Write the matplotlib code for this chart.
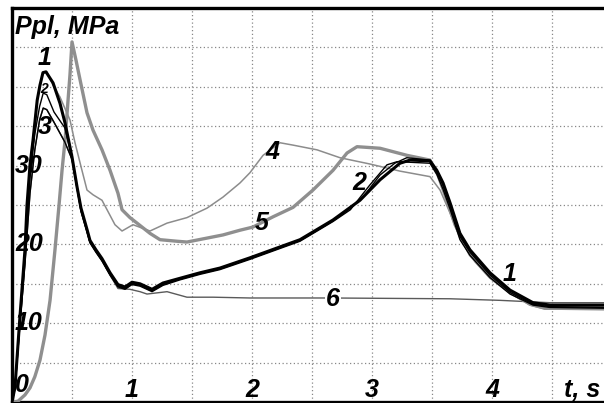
import matplotlib
matplotlib.use("Agg")
import matplotlib.pyplot as plt

# curve 1 - black, thick
t1 = [0, 0.025, 0.067, 0.108, 0.125, 0.15, 0.175, 0.21, 0.233, 0.258, 0.283, 0.342, 0.40, 0.442,
      0.50, 0.542, 0.575, 0.625, 0.65, 0.70, 0.75, 0.817, 0.883, 0.942, 1.0, 1.067, 1.167, 1.258,
      1.40, 1.567, 1.733, 1.983, 2.40, 2.675, 2.90, 3.067, 3.233, 3.317, 3.483, 3.54, 3.592, 3.65,
      3.733, 3.817, 3.983, 4.15, 4.342, 4.483, 4.95]
p1 = [0, 1.9, 11.0, 19.3, 25.0, 30.1, 33.2, 38.3, 40.2, 41.8, 41.9, 40.5, 37.9, 35.4,
      31.1, 27.3, 24.6, 21.9, 20.5, 19.3, 18.2, 16.4, 14.9, 14.6, 15.2, 15.0, 14.3, 15.1,
      15.7, 16.4, 17.0, 18.3, 20.6, 23.1, 25.6, 28.2, 30.3, 30.7, 30.6, 29.4, 27.8, 25.3,
      21.4, 19.3, 16.4, 14.2, 12.6, 12.3, 12.3]

# curve 2 - black, thin
t2 = [0, 0.025, 0.067, 0.108, 0.15, 0.19, 0.23, 0.26, 0.29, 0.35, 0.44, 0.50, 0.575, 0.625,
      0.65, 0.70, 0.75, 0.817, 0.883, 0.942, 1.0, 1.067, 1.167, 1.258, 1.40, 1.567, 1.733, 1.983,
      2.40, 2.675, 2.80, 2.925, 3.067, 3.19, 3.29, 3.483, 3.54, 3.592, 3.65, 3.733, 3.817,
      3.983, 4.15, 4.342, 4.483, 4.95]
p2 = [0, 1.8, 10.5, 18.5, 28.5, 34.0, 37.5, 39.2, 39.0, 36.8, 34.8, 31.0, 24.4, 21.7,
      20.3, 19.1, 18.0, 16.2, 14.7, 14.4, 15.0, 14.8, 14.1, 14.9, 15.6, 16.3, 16.9, 18.2,
      20.5, 23.0, 24.4, 26.0, 28.8, 30.3, 31.0, 30.7, 29.2, 27.5, 25.0, 21.0, 19.0,
      16.1, 13.9, 12.4, 12.1, 12.0]

# curve 3 - black, thin
t3 = [0, 0.025, 0.067, 0.108, 0.15, 0.19, 0.23, 0.26, 0.29, 0.35, 0.44, 0.50, 0.575, 0.625,
      0.65, 0.70, 0.75, 0.817, 0.883, 0.942, 1.0, 1.067, 1.167, 1.258, 1.40, 1.567, 1.733, 1.983,
      2.40, 2.675, 2.82, 2.98, 3.125, 3.21, 3.483, 3.54, 3.592, 3.65, 3.733, 3.817,
      3.983, 4.15, 4.342, 4.483, 4.95]
p3 = [0, 1.7, 10.0, 17.5, 26.5, 32.0, 35.8, 37.3, 37.1, 35.5, 33.0, 30.8, 24.2, 21.6,
      20.2, 19.0, 17.9, 16.1, 14.6, 14.3, 14.9, 14.7, 14.0, 14.8, 15.5, 16.2, 16.8, 18.1,
      20.4, 22.9, 24.4, 27.5, 30.1, 30.5, 30.3, 28.9, 27.0, 24.5, 20.6, 18.6,
      15.8, 13.7, 12.3, 12.0, 11.9]

# curve 4 - gray, thin
t4 = [0, 0.025, 0.067, 0.108, 0.15, 0.21, 0.258, 0.29, 0.342, 0.40, 0.483, 0.525, 0.583,
      0.625, 0.675, 0.75, 0.792, 0.858, 0.917, 1.008, 1.15, 1.292, 1.458, 1.625, 1.758,
      1.90, 1.983, 2.092, 2.233, 2.342, 2.542, 2.733, 2.983, 3.233, 3.483, 3.567, 3.65,
      3.733, 3.858, 3.983, 4.15, 4.317, 4.442, 4.95]
p4 = [0, 1.9, 11.0, 19.3, 30.0, 38.3, 41.8, 41.9, 40.2, 38.7, 35.8, 32.9, 29.4,
      26.9, 26.3, 25.6, 24.4, 22.5, 21.7, 22.5, 21.7, 22.7, 23.4, 24.6, 26.0,
      27.8, 29.1, 31.3, 32.9, 32.6, 32.0, 31.0, 30.2, 29.3, 28.6, 26.9, 24.0,
      20.8, 17.8, 15.7, 13.8, 12.3, 11.8, 11.7]

# curve 5 - gray, thick
t5 = [0, 0.05, 0.108, 0.15, 0.19, 0.233, 0.275, 0.317, 0.358, 0.392, 0.417, 0.442, 0.467,
      0.483, 0.50, 0.533, 0.567, 0.625, 0.675, 0.75, 0.817, 0.883, 0.917, 0.983, 1.042,
      1.15, 1.233, 1.375, 1.458, 1.625, 1.758, 1.90, 2.008, 2.175, 2.342, 2.508, 2.675,
      2.792, 2.875, 3.067, 3.292, 3.483, 3.55, 3.608, 3.692, 3.817, 3.983, 4.15, 4.317,
      4.442, 4.95]
p5 = [0, 0.1, 0.9, 1.8, 3.2, 5.3, 8.5, 12.9, 19.3, 25.0, 29.4, 33.2, 38.3,
      41.5, 45.7, 43.4, 40.9, 36.7, 34.5, 32.0, 29.4, 26.5, 24.4, 23.4, 22.7,
      21.4, 20.6, 20.4, 20.3, 20.8, 21.2, 21.8, 22.2, 23.5, 24.7, 26.9, 29.4,
      31.6, 32.4, 32.2, 31.3, 30.7, 28.8, 26.3, 22.5, 18.7, 15.9, 14.0, 12.4,
      11.9, 11.9]

# curve 6 - dark gray, thin
t6 = [0, 0.025, 0.067, 0.108, 0.15, 0.19, 0.23, 0.26, 0.29, 0.35, 0.44, 0.50, 0.575, 0.625,
      0.65, 0.70, 0.75, 0.817, 0.883, 0.983, 1.067, 1.125, 1.292, 1.458, 1.675, 1.983, 2.65,
      3.65, 4.067, 4.483, 4.95]
p6 = [0, 1.7, 10.0, 17.5, 26.5, 32.0, 35.8, 37.3, 37.1, 35.5, 33.0, 30.8, 24.2, 21.6,
      20.2, 19.0, 17.9, 16.1, 14.4, 14.3, 14.0, 13.7, 14.0, 13.3, 13.3, 13.2, 13.2,
      13.1, 12.9, 12.6, 12.6]

xtick_vals = [1, 2, 3, 4]
xtick_labels = ["1", "2", "3", "4"]
ytick_vals = [10, 20, 30]
ytick_labels = ["10", "20", "30"]

fnt = ["Liberation Sans Narrow", "Liberation Sans", "DejaVu Sans"]

fig = plt.figure(figsize=(6.04, 4.03), dpi=100)
ax = fig.add_axes([12 / 604, 1 / 403, 592 / 604, 394 / 403])
ax.set_xlim(0, 592 / 120)
ax.set_ylim(0, 50)

# grid
for gx in [0.5 * i for i in range(1, 10)]:
    ax.axvline(gx, color="#888888", lw=0.9, ls=(0, (1, 2)), zorder=0)
for gy in range(5, 50, 5):
    ax.axhline(gy, color="#888888", lw=0.9, ls=(0, (1, 2)), zorder=0)

ax.plot(t6, p6, color="#5a5a5a", lw=1.0, zorder=2)
ax.plot(t4, p4, color="#8c8c8c", lw=1.1, zorder=2)
ax.plot(t5, p5, color="#8f8f8f", lw=2.4, zorder=3)
ax.plot(t3, p3, color="black", lw=1.0, zorder=4)
ax.plot(t2, p2, color="black", lw=1.0, zorder=4)
ax.plot(t1, p1, color="black", lw=2.2, zorder=5)

ax.set_xticks([])
ax.set_yticks([])
for s in ["left", "top", "bottom"]:
    ax.spines[s].set_linewidth(2.4)
ax.spines["right"].set_visible(False)

lab = dict(family=fnt, fontweight="bold", fontstyle="italic", fontsize=18, color="black")

for v, s in zip(xtick_vals, xtick_labels):
    ax.text(v, 1.5, s, ha="center", va="center", **lab)
ax.text(4.905, 1.5, "t, s", ha="right", va="center", **lab)
for v, s in zip(ytick_vals, ytick_labels):
    ax.text(0.025, v, s, ha="left", va="center", **lab)
ax.text(0.025, 2.2, "0", ha="left", va="center", **lab)
ax.text(0.025, 47.6, "Ppl, MPa", ha="left", va="center", **lab)

# curve numbers
ax.text(0.267, 43.7, "1", ha="center", va="center", **lab)
ax.text(0.267, 39.7, "2", ha="center", va="center", family=fnt, fontweight="bold",
        fontstyle="italic", fontsize=10)
ax.text(0.275, 34.9, "3", ha="center", va="center", **lab)
ax.text(2.167, 31.7, "4", ha="center", va="center", **lab)
ax.text(2.083, 22.7, "5", ha="center", va="center", **lab)
ax.text(2.892, 27.8, "2", ha="center", va="center", **lab)
ax.text(2.675, 13.1, "6", ha="center", va="center",
        bbox=dict(facecolor="white", edgecolor="none", pad=0.5), zorder=6, **lab)
ax.text(4.15, 16.2, "1", ha="center", va="center", **lab)

fig.savefig("out.png", dpi=100)
